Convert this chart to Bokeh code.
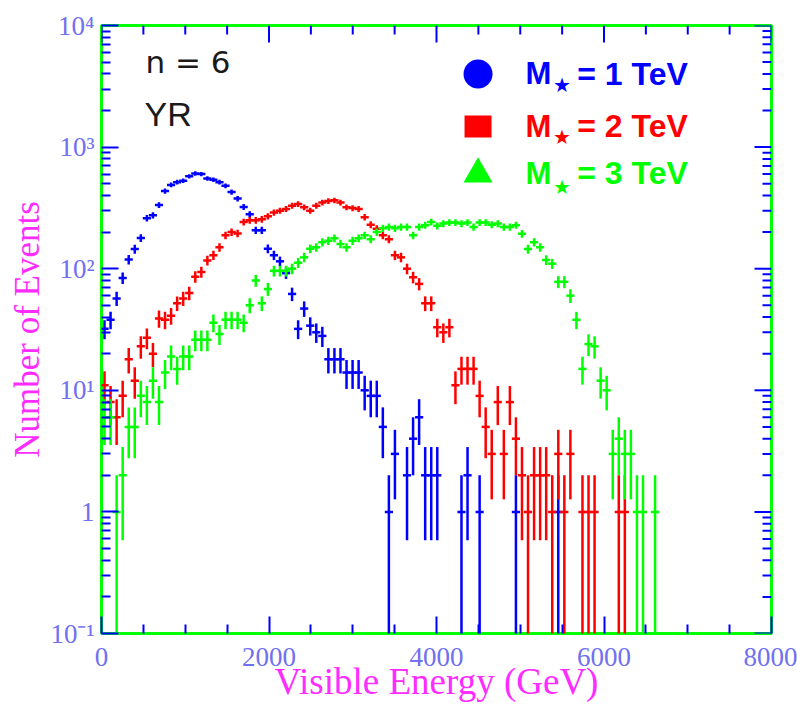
import numpy as np
from bokeh.plotting import figure
from bokeh.models import FixedTicker, Label
from bokeh.embed import file_html
from bokeh.resources import INLINE

# Visible-energy histogram binning (GeV)
BIN_WIDTH = 72.24

# Events per bin, first bin starting at 0 GeV
events_m1 = [32, 38, 57, 84, 119, 145, 179, 260, 275, 334,
             435, 489, 515, 530, 575, 607, 600, 552, 540, 515,
             480, 427, 377, 322, 280, 207, 207, 146, 129, 115,
             92, 62, 32, 47, 34, 30, 28, 18, 18, 18,
             14, 14, 14, 10, 9, 9, 5, 1, 3, 0,
             2, 4, 6, 2, 2, 2, 0, 0, 0, 1,
             2, 0, 1, 0, 0, 0, 0, 0, 1, 0,
             0, 0, 0, 0, 0, 1]

events_m2 = [11, 8, 6, 9, 18, 12, 23, 27, 20, 39,
             38, 41, 52, 57, 63, 86, 94, 117, 129, 150,
             188, 200, 195, 242, 250, 250, 255, 270, 290, 300,
             310, 330, 340, 320, 300, 330, 350, 360, 365, 350,
             320, 315, 310, 265, 230, 213, 188, 175, 129, 124,
             100, 85, 75, 52, 52, 33, 30, 33, 11, 15,
             15, 15, 9, 5, 3, 8, 3, 8, 4, 2,
             1, 2, 2, 2, 1, 3, 1, 3, 0, 1,
             1, 1, 0, 0, 0, 1, 1]

events_m3 = [6, 6, 1, 2, 5, 5, 9, 8, 12, 8,
             14, 19, 15, 19, 19, 26, 26, 26, 36, 29,
             38, 38, 38, 36, 50, 80, 52, 68, 96, 96,
             96, 100, 112, 124, 146, 150, 165, 170, 178, 160,
             150, 170, 178, 188, 175, 200, 215, 220, 215, 220,
             220, 188, 220, 228, 242, 225, 235, 240, 240, 235,
             240, 220, 240, 240, 230, 235, 220, 220, 228, 194,
             145, 165, 150, 118, 110, 78, 78, 60, 38, 15,
             24, 23, 12, 10, 3, 4, 3, 3, 1, 1,
             0, 1]

X_MIN, X_MAX = 0, 8000
Y_MIN, Y_MAX = 0.1, 10000
x_major = [0, 2000, 4000, 6000, 8000]
x_minor = [v for v in range(0, 8001, 500) if v % 2000]
y_major = [0.1, 1, 10, 100, 1000, 10000]
y_minor = [m * 10.0 ** e for e in range(-1, 4) for m in range(2, 10)]
y_tick_text = ["10\u207b\u00b9", "1", "10\u00b9", "10\u00b2", "10\u00b3", "10\u2074"]
x_tick_text = ["0", "2000", "4000", "6000", "8000"]

BLUE = "#0000ff"
RED = "#ff0000"
GREEN = "#00ff00"
MAGENTA = "#ff2cff"
TICK_TEXT = "#7070f0"
SERIF = "Liberation Serif"
MAJOR_LEN, MINOR_LEN = 17, 9
CROSS_ARM = 1.35 * BIN_WIDTH   # drawn width of the horizontal arm of each cross
BAR_WIDTH = 2.5


def error_bars(counts):
    n = np.asarray(counts, dtype=float)
    k = np.arange(len(n))
    keep = n > 0
    n = n[keep]
    xc = (k[keep] + 0.5) * BIN_WIDTH
    err = np.sqrt(n)
    return dict(x=xc, xl=xc - CROSS_ARM / 2, xr=xc + CROSS_ARM / 2,
                y=n, lo=np.maximum(n - err, 1e-3), hi=n + err)


p = figure(width=797, height=704, x_range=(X_MIN, X_MAX), y_range=(Y_MIN, Y_MAX),
           y_axis_type="log", output_backend="svg", toolbar_location=None,
           min_border_left=101, min_border_right=26, min_border_top=25,
           min_border_bottom=71, background_fill_color="white",
           border_fill_color="white")
p.outline_line_color = GREEN
p.outline_line_width = 3
p.grid.visible = False


def style_ticks(ax):
    ax.axis_line_color = None
    ax.major_tick_line_color = BLUE
    ax.major_tick_line_width = 2
    ax.minor_tick_line_color = BLUE
    ax.minor_tick_line_width = 2
    ax.major_tick_in = MAJOR_LEN
    ax.major_tick_out = 0
    ax.minor_tick_in = MINOR_LEN
    ax.minor_tick_out = 0


xa = p.xaxis[0]
xa.ticker = FixedTicker(ticks=x_major, minor_ticks=x_minor)
style_ticks(xa)
xa.major_label_overrides = {t: s for t, s in zip(x_major, x_tick_text)}
xa.major_label_text_font = SERIF
xa.major_label_text_font_size = "27px"
xa.major_label_text_color = TICK_TEXT
xa.major_label_standoff = 14
xa.axis_label = "Visible Energy (GeV)"
xa.axis_label_text_font = SERIF
xa.axis_label_text_font_size = "37px"
xa.axis_label_text_font_style = "normal"
xa.axis_label_text_color = MAGENTA
xa.axis_label_standoff = -8

ya = p.yaxis[0]
ya.ticker = FixedTicker(ticks=y_major, minor_ticks=y_minor)
style_ticks(ya)
ya.major_label_overrides = {t: s for t, s in zip(y_major, y_tick_text)}
ya.major_label_text_font = SERIF
ya.major_label_text_font_size = "27px"
ya.major_label_text_color = TICK_TEXT
ya.major_label_standoff = 7
ya.axis_label = "Number of Events"
ya.axis_label_text_font = SERIF
ya.axis_label_text_font_size = "35px"
ya.axis_label_text_font_style = "normal"
ya.axis_label_text_color = MAGENTA
ya.axis_label_standoff = 0

# Inward ticks along the top and right edges of the frame
for ticks, length in ((x_major, MAJOR_LEN), (x_minor, MINOR_LEN)):
    p.ray(x=ticks, y=[Y_MAX] * len(ticks), length=length, length_units="screen",
          angle=-np.pi / 2, line_color=BLUE, line_width=2)
for ticks, length in ((y_major, MAJOR_LEN), (y_minor, MINOR_LEN)):
    p.ray(x=[X_MAX] * len(ticks), y=ticks, length=length, length_units="screen",
          angle=np.pi, line_color=BLUE, line_width=2)

# Histograms drawn as error crosses: vertical sqrt(N) bar plus horizontal arm
for counts, color in ((events_m1, BLUE), (events_m2, RED), (events_m3, GREEN)):
    src = error_bars(counts)
    p.segment(x0=src["x"], y0=src["lo"], x1=src["x"], y1=src["hi"],
              line_color=color, line_width=BAR_WIDTH)
    p.segment(x0=src["xl"], y0=src["y"], x1=src["xr"], y1=src["y"],
              line_color=color, line_width=BAR_WIDTH)

# Legend block
LEG_MARK_X = 4496
LEG_TEXT_X = 5063
LEG_STAR_X = 5390
LEG_EQ_X = 5680
rows = [
    ("circle", BLUE, 3990, 3992, 3211, "= 1 TeV"),
    ("square", RED, 1477, 1491, 1222, "= 2 TeV"),
    ("triangle", GREEN, 600, 612, 474, "= 3 TeV"),
]
for marker, color, ym, yb, ys, txt in rows:
    if marker == "square":
        p.rect(x=[LEG_MARK_X], y=[ym], width=27, height=22, width_units="screen",
               height_units="screen", fill_color=color, line_color=None)
    else:
        p.scatter(x=[LEG_MARK_X], y=[ym], marker=marker, size=29,
                  fill_color=color, line_color=None)
    p.add_layout(Label(x=LEG_TEXT_X, y=yb, text="M", text_font="Liberation Sans",
                       text_font_size="31px", text_font_style="bold",
                       text_color=color, text_baseline="alphabetic"))
    p.add_layout(Label(x=LEG_STAR_X, y=ys, text="\u2605", text_font="DejaVu Sans",
                       text_font_size="20px", text_color=color,
                       text_baseline="alphabetic"))
    p.add_layout(Label(x=LEG_EQ_X, y=yb, text=txt, text_font="Liberation Sans",
                       text_font_size="32px", text_font_style="bold",
                       text_color=color, text_baseline="alphabetic"))

p.add_layout(Label(x=525, y=4966, text="n = 6", text_font="DejaVu Sans",
                   text_font_size="31px", text_color="#1a1a1a",
                   text_baseline="alphabetic"))
p.add_layout(Label(x=513, y=1889, text="YR", text_font="Liberation Sans",
                   text_font_size="34px", text_color="#1a1a1a",
                   text_baseline="alphabetic"))

open("out.html", "w").write(file_html(p, INLINE))
